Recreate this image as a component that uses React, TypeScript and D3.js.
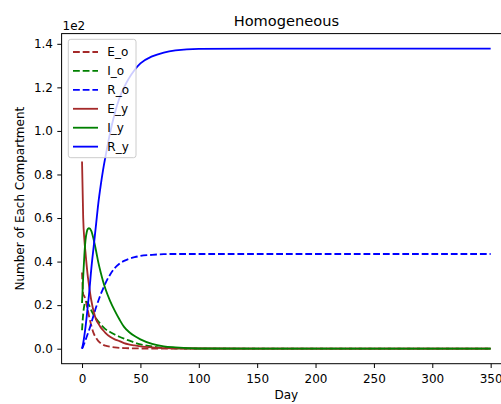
import React, { useEffect, useRef } from 'react';
import * as d3 from 'd3';

// time points (days)
const days = [0, 1, 2, 3, 4, 5, 6, 8, 10, 12, 14, 16, 18, 20, 24, 28, 32, 36, 40, 45, 50, 60, 70, 80, 100, 150, 200, 250, 300, 350];

// compartment sizes (real units, axis shows them x1e2)
const E_o = [35, 25, 24, 22.5, 20, 17.5, 15, 10.5, 7, 5, 3.5, 2.5, 1.8, 1.4, 0.9, 0.6, 0.4, 0.3, 0.2, 0.15, 0.1, 0.05, 0, 0, 0, 0, 0, 0, 0, 0];
const I_o = [8.5, 16, 20, 21.5, 21.5, 21, 20, 17.5, 15.5, 13.8, 12.5, 11.2, 10, 9, 7.7, 6.5, 5.5, 4.6, 3.8, 2.8, 2, 1, 0.4, 0.2, 0, 0, 0, 0, 0, 0];
const R_o = [0, 1.2, 2.5, 4, 5.5, 7, 8.5, 12, 15.5, 19, 22, 25, 27.5, 30, 34, 37, 39, 40.3, 41.2, 42, 42.6, 43.1, 43.4, 43.5, 43.5, 43.5, 43.5, 43.5, 43.5, 43.5];
const E_y = [86, 60, 50, 44, 38, 33, 29, 22, 17, 13.5, 11.5, 9.8, 8.5, 7.3, 5.5, 4.3, 3.5, 2.6, 2, 1.5, 1.1, 0.6, 0.3, 0.2, 0.1, 0, 0, 0, 0, 0];
const I_y = [21, 33, 43, 50, 53.5, 55, 55.3, 54, 50, 45, 39.5, 35, 31, 27.5, 22, 17.5, 13.5, 10, 7.8, 5.8, 4.3, 2.2, 1.1, 0.6, 0.1, 0, 0, 0, 0, 0];
const R_y = [0, 2.5, 6, 10, 14.7, 20, 25, 37, 47, 57, 67, 75, 82, 88, 99, 108, 115, 120, 124, 128, 131, 134.2, 136, 137, 137.7, 137.8, 137.8, 137.8, 137.8, 137.8];

const xTicks = [0, 50, 100, 150, 200, 250, 300, 350];
const yTicks = [0, 20, 40, 60, 80, 100, 120, 140];

const series = [
  { name: 'E_o', values: E_o, color: '#a52a2a', dashed: true },
  { name: 'I_o', values: I_o, color: '#008000', dashed: true },
  { name: 'R_o', values: R_o, color: '#0000ff', dashed: true },
  { name: 'E_y', values: E_y, color: '#a52a2a', dashed: false },
  { name: 'I_y', values: I_y, color: '#008000', dashed: false },
  { name: 'R_y', values: R_y, color: '#0000ff', dashed: false },
];

const W = 501;
const H = 404;
const FONT = 'DejaVu Sans, sans-serif';
const LW = 1.83;
const DASH = '6.8,2.9';

const App = () => {
  const svgRef = useRef<SVGSVGElement>(null);

  useEffect(() => {
    const svg = d3.select(svgRef.current);
    svg.selectAll('*').remove();

    // axes box (right edge falls outside the picture)
    const left = 61.6, right = 511.1, top = 33.6, bottom = 363.7;

    const x = d3.scaleLinear().domain([-17.5, 367.5]).range([left, right]);
    const y = d3.scaleLinear().domain([-6.89, 144.69]).range([bottom, top]);

    svg.append('defs').append('clipPath').attr('id', 'plotClip')
      .append('rect')
      .attr('x', left).attr('y', top)
      .attr('width', right - left).attr('height', bottom - top);

    const plot = svg.append('g').attr('clip-path', 'url(#plotClip)');

    const line = d3.line<number>()
      .x((_, i) => x(days[i]))
      .y(d => y(d))
      .curve(d3.curveMonotoneX);

    series.forEach(s => {
      plot.append('path')
        .datum(s.values)
        .attr('fill', 'none')
        .attr('stroke', s.color)
        .attr('stroke-width', LW)
        .attr('stroke-dasharray', s.dashed ? DASH : null)
        .attr('d', line);
    });

    // x axis
    const xAxis = svg.append('g')
      .attr('transform', `translate(0,${bottom})`)
      .call(d3.axisBottom(x).tickValues(xTicks).tickSize(4.3).tickPadding(6.3).tickFormat(d3.format('d')));
    xAxis.select('.domain').remove();
    xAxis.selectAll('line').attr('stroke', '#000').attr('stroke-width', 1);
    xAxis.selectAll('text')
      .style('font-family', FONT).style('font-size', '12px').attr('fill', '#000');

    // y axis
    const yAxis = svg.append('g')
      .attr('transform', `translate(${left},0)`)
      .call(d3.axisLeft(y).tickValues(yTicks).tickSize(4.3).tickPadding(4.3).tickFormat(d => (+d / 100).toFixed(1)));
    yAxis.select('.domain').remove();
    yAxis.selectAll('line').attr('stroke', '#000').attr('stroke-width', 1);
    yAxis.selectAll('text')
      .style('font-family', FONT).style('font-size', '12px').attr('fill', '#000');

    // spines
    svg.append('rect')
      .attr('x', left).attr('y', top)
      .attr('width', right - left).attr('height', bottom - top)
      .attr('fill', 'none')
      .attr('stroke', '#000')
      .attr('stroke-width', 1);

    // offset text, title and labels
    svg.append('text')
      .attr('x', left + 1).attr('y', 30)
      .style('font-family', FONT).style('font-size', '12px')
      .text('1e2');

    svg.append('text')
      .attr('x', (left + right) / 2).attr('y', 26)
      .attr('text-anchor', 'middle')
      .style('font-family', FONT).style('font-size', '14.6px')
      .text('Homogeneous');

    svg.append('text')
      .attr('x', (left + right) / 2).attr('y', 399)
      .attr('text-anchor', 'middle')
      .style('font-family', FONT).style('font-size', '12px')
      .text('Day');

    svg.append('text')
      .attr('transform', `translate(24,${(top + bottom) / 2}) rotate(-90)`)
      .attr('text-anchor', 'middle')
      .style('font-family', FONT).style('font-size', '12px')
      .text('Number of Each Compartment');

    // legend
    const legend = svg.append('g');
    legend.append('rect')
      .attr('x', 68.3).attr('y', 39.3)
      .attr('width', 67.7).attr('height', 118.4)
      .attr('rx', 2.5)
      .attr('fill', 'rgba(255,255,255,0.8)')
      .attr('stroke', '#cccccc')
      .attr('stroke-width', 1);

    series.forEach((s, i) => {
      const ry = 52 + i * 18.93;
      legend.append('line')
        .attr('x1', 73).attr('x2', 98)
        .attr('y1', ry).attr('y2', ry)
        .attr('stroke', s.color)
        .attr('stroke-width', LW)
        .attr('stroke-dasharray', s.dashed ? DASH : null);
      legend.append('text')
        .attr('x', 107.3).attr('y', ry + 4.3)
        .style('font-family', FONT).style('font-size', '12px')
        .text(s.name);
    });
  }, []);

  return (
    <svg
      ref={svgRef}
      width={W}
      height={H}
      style={{ position: 'absolute', left: 0, top: 0, background: '#fff' }}
    />
  );
};

export default App;
